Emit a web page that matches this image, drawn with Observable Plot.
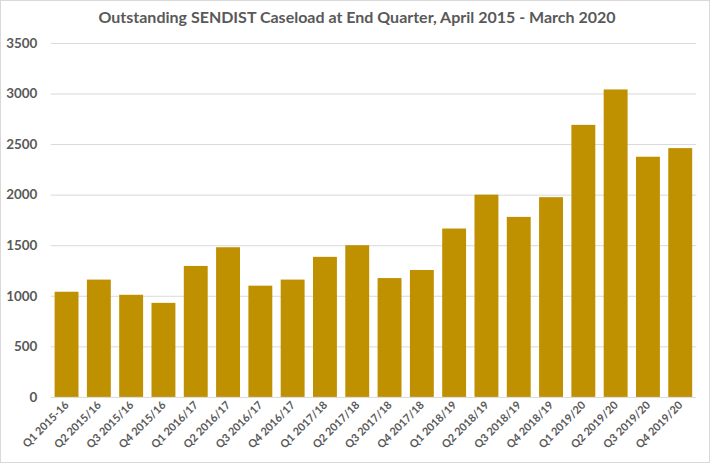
<!DOCTYPE html>
<html>
<head>
<meta charset="utf-8">
<script src="https://cdn.jsdelivr.net/npm/d3@7"></script>
<script src="https://cdn.jsdelivr.net/npm/@observablehq/plot@0.6"></script>
<style>
  html, body { margin: 0; padding: 0; background: #fff; }
  #chart { position: relative; width: 708px; height: 461px; border: 1px solid #d9d9d9; box-sizing: content-box; font-family: Lato, "Open Sans", sans-serif; }
  #title { position: absolute; top: 6px; left: 0; width: 712px; text-align: center; font-size: 16px; font-weight: bold; color: #595959; }
  #plot { position: absolute; top: 30px; left: 0; }
</style>
</head>
<body>
<div id="chart">
  <div id="title">Outstanding SENDIST Caseload at End Quarter, April 2015 - March 2020</div>
  <div id="plot"></div>
</div>
<script>
const quarters = ["Q1 2015-16","Q2 2015/16","Q3 2015/16","Q4 2015/16","Q1 2016/17","Q2 2016/17","Q3 2016/17","Q4 2016/17","Q1 2017/18","Q2 2017/18","Q3 2017/18","Q4 2017/18","Q1 2018/19","Q2 2018/19","Q3 2018/19","Q4 2018/19","Q1 2019/20","Q2 2019/20","Q3 2019/20","Q4 2019/20"];
const caseload = [1040,1160,1010,930,1295,1480,1100,1160,1385,1500,1175,1255,1665,2000,1780,1975,2690,3040,2375,2460];
const yTicks = [0,500,1000,1500,2000,2500,3000,3500];

const data = quarters.map((q, i) => ({quarter: q, value: caseload[i]}));

const chart = Plot.plot({
  width: 712,
  height: 435,
  marginTop: 12,
  marginBottom: 67,
  marginLeft: 50,
  marginRight: 13,
  style: {fontFamily: "Lato, 'Open Sans', sans-serif", color: "#595959", background: "transparent"},
  x: {domain: quarters, paddingInner: 0.26, paddingOuter: 0.12, align: 0.5, round: false, label: null},
  y: {domain: [0, 3500], ticks: yTicks, label: null},
  marks: [
    Plot.gridY(yTicks.filter(t => t > 0), {stroke: "#d9d9d9", strokeOpacity: 1}),
    Plot.barY(data, {x: "quarter", y: "value", fill: "#bf9000"}),
    Plot.ruleY([0], {stroke: "#d9d9d9", strokeOpacity: 1}),
    Plot.axisY({ticks: yTicks, tickFormat: d3.format("d"), tickSize: 0, tickPadding: 14, fontSize: 13.5, fontWeight: "bold", label: null}),
    Plot.axisX({tickRotate: -45, tickSize: 0, tickPadding: 6, fontSize: 11, fontWeight: "bold", label: null})
  ]
});
document.getElementById("plot").appendChild(chart);
</script>
</body>
</html>
